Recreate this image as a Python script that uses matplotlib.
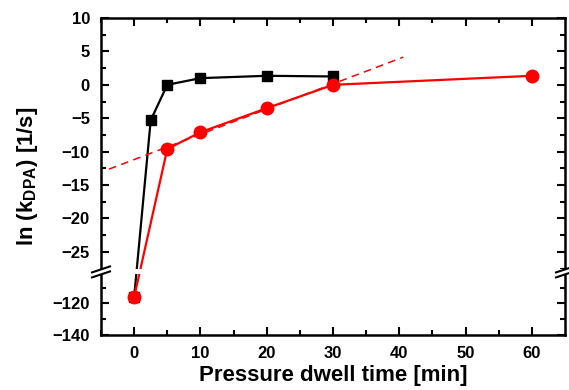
import numpy as np
import matplotlib
matplotlib.use('Agg')
import matplotlib.pyplot as plt
from matplotlib.patches import Rectangle
from matplotlib.lines import Line2D

plt.rcParams['font.family'] = ['Liberation Sans', 'DejaVu Sans']
plt.rcParams['font.weight'] = 'bold'
plt.rcParams['mathtext.fontset'] = 'custom'
plt.rcParams['mathtext.rm'] = 'Liberation Sans:bold'
plt.rcParams['mathtext.it'] = 'Liberation Sans:bold'
plt.rcParams['mathtext.bf'] = 'Liberation Sans:bold'

# data
black_t = [0, 2.5, 5, 10, 20, 30]
black_lnk = [-116, -5.3, 0.0, 1.0, 1.35, 1.25]
red_t = [0, 5, 10, 20, 30, 60]
red_lnk = [-116, -9.6, -7.1, -3.5, 0.0, 1.35]
# dashed linear fit over the 5..30 min red points
fit_t = [-3.8, 40.6]

# broken y axis: -140..-100 squeezed below -28..10
brk_hi = -28.0
brk_lo = -100.0
k = 0.236


def fwd(y):
    y = np.asarray(y, dtype=float)
    return np.where(y >= brk_hi, y, np.where(y <= brk_lo, brk_hi + (y - brk_lo) * k, brk_hi))


def inv(z):
    z = np.asarray(z, dtype=float)
    return np.where(z >= brk_hi, z, brk_lo + (z - brk_hi) / k)


fig = plt.figure(figsize=(5.69, 3.90), dpi=100)
ax = fig.add_axes([101 / 569, 1 - 335 / 390, 464 / 569, 317 / 390])
ax.set_yscale('function', functions=(fwd, inv))

ax.plot(black_t, black_lnk, '-', color='black', lw=1.6, marker='s', ms=7.5, zorder=2)
ax.plot(red_t, red_lnk, '-', color='red', lw=1.6, marker='o', ms=9, zorder=2.2)

sel = [i for i, t in enumerate(red_t) if 5 <= t <= 30]
p = np.polyfit([red_t[i] for i in sel], [red_lnk[i] for i in sel], 1)
ax.plot(fit_t, np.polyval(p, fit_t), '--', color='red', lw=1.1, dashes=(5, 3.5), zorder=2.1)

ax.set_xlim(-5, 65)
ax.set_ylim(-140, 10)

ax.set_xticks(np.arange(0, 61, 10))
ax.set_xticks(np.arange(-5, 65, 5), minor=True)
ax.set_yticks([-140, -120] + list(range(-25, 11, 5)))
ax.set_yticks([-130, -110] + list(np.arange(-27.5, 10, 5)), minor=True)
ax.tick_params(which='both', direction='in', top=True, right=True, width=1.5, labelsize=12)
ax.tick_params(which='major', length=6, pad=8)
ax.tick_params(which='minor', length=3.5)
for s in ax.spines.values():
    s.set_linewidth(1.8)

ax.set_xlabel('Pressure dwell time [min]', fontsize=16, fontweight='bold', labelpad=3)
ax.set_ylabel(r'ln (k$_{\mathrm{DPA}}$) [1/s]', fontsize=16, fontweight='bold', labelpad=9)

# break: white band across the axes plus slash marks on the spines
z0, z1 = fwd(-140), fwd(10)
yb = float((brk_hi - z0) / (z1 - z0))
h = 317.0
w = 464.0
ax.add_patch(Rectangle((-0.1, yb - 2.5 / h), 1.2, 5 / h, transform=ax.transAxes,
                       facecolor='white', edgecolor='none', clip_on=False, zorder=3))
for xc in (0.0, 1.0):
    for dy in (-2.5, 2.5):
        ax.add_line(Line2D([xc - 9 / w, xc + 9 / w], [yb + (dy - 3) / h, yb + (dy + 3) / h],
                           transform=ax.transAxes, color='black', lw=1.5,
                           clip_on=False, zorder=4))

fig.savefig('out.png', dpi=100)
